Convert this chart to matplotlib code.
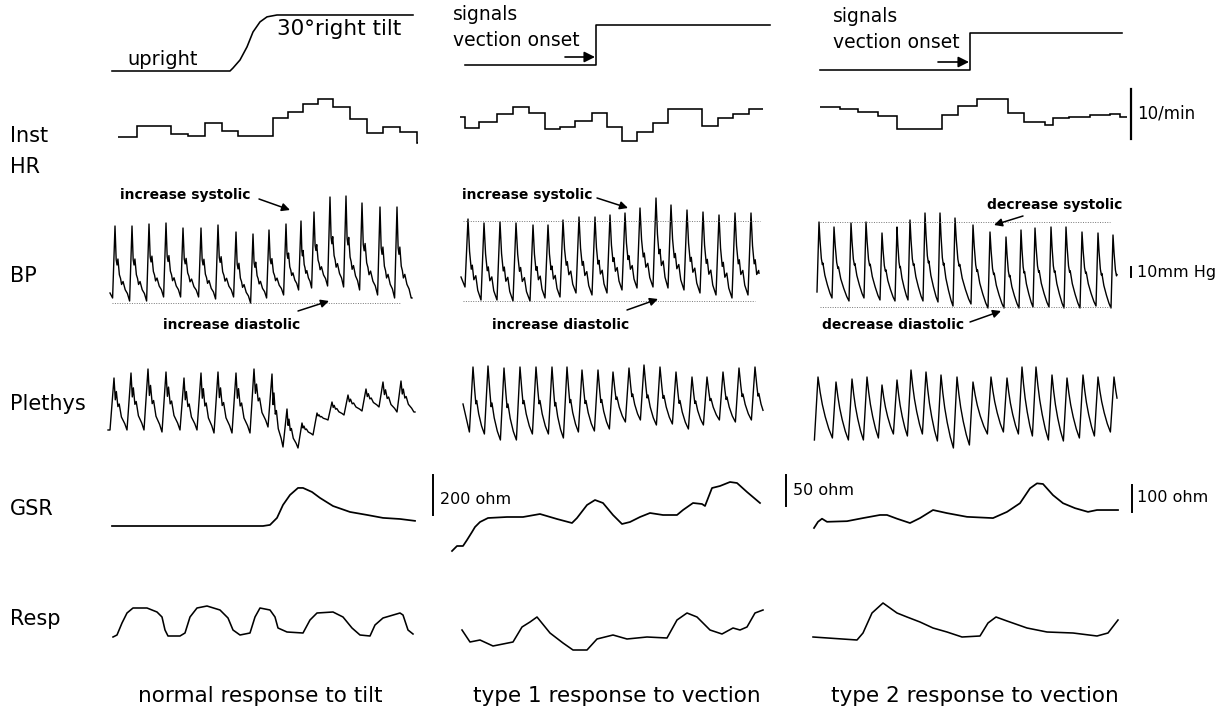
import numpy as np
import matplotlib.pyplot as plt

plt.rcParams['font.family'] = ['DejaVu Sans']

W, H = 1226, 711
PX_PER_S = 20                  # horizontal chart speed
COL_X0 = [108, 452, 812]       # pixel where t = 0 sits in each column
T_SPAN = 16

# ---------------- data (time in s) ----------------
# row 1: tilt angle (deg) and vection signal (0 / 1)
tilt_t = [0.2, 6.1, 6.25, 6.6, 6.95, 7.25, 7.6, 7.95, 8.45, 15.25]
tilt_deg = [0, 0, 1.6, 5.9, 12.9, 20.9, 26.3, 29, 30, 30]
vect1_t = [0.65, 7.2, 7.2, 15.9]
vect2_t = [0.4, 7.9, 7.9, 15.5]
vect_sig = [0, 0, 1, 1]

# row 2: instantaneous heart rate, one level per beat (beats/min)
hr_edges = [
    [0.5, 1.45, 3.15, 4.0, 4.85, 5.7, 6.5, 8.25, 9.0, 9.75, 10.5, 11.25, 12.1,
     12.95, 13.75, 14.6, 15.45, 15.5],
    [0.4, 0.65, 1.35, 2.25, 3.05, 3.85, 4.65, 5.4, 6.15, 7.0, 7.75, 8.5, 9.25,
     10.05, 10.8, 12.5, 13.3, 14.05, 14.85, 15.55],
    [0.4, 1.4, 2.3, 3.3, 4.25, 6.5, 7.3, 8.25, 9.8, 10.6, 11.65, 12.05, 12.85,
     13.9, 14.9, 15.4, 15.75],
]
hr_levels = [
    [70, 72.2, 70.6, 70.2, 72.8, 71.2, 70.2, 73.8, 75, 76.6, 77.6, 76, 73.6,
     70.8, 72, 71, 68.8],
    [74, 71.8, 73, 74.6, 76, 74.8, 71.6, 72, 73.2, 74.8, 72, 69.2, 71, 72.8,
     75.6, 72.2, 73.8, 74.6, 75.6],
    [76, 75.6, 75, 74.2, 71.6, 74.4, 76.2, 77.6, 74.8, 73, 72.4, 73.8, 74,
     74.4, 74.6, 74],
]

# row 3: blood pressure, per beat (mmHg)
bp_peak_t = [
    [0.35, 1.2, 2.05, 2.9, 3.75, 4.65, 5.5, 6.4, 7.25, 8.05, 8.9, 9.65, 10.3,
     11.1, 11.9, 12.7, 13.6, 14.45],
    [0.8, 1.6, 2.4, 3.2, 4.05, 4.8, 5.55, 6.35, 7.15, 7.9, 8.65, 9.4, 10.2,
     10.95, 11.75, 12.55, 13.35, 14.15, 14.95],
    [0.35, 1.1, 1.95, 2.7, 3.5, 4.25, 4.9, 5.65, 6.4, 7.15, 8.05, 8.9, 9.7,
     10.45, 11.15, 11.95, 12.7, 13.5, 14.3, 15.05],
]
bp_systolic = [
    [137, 137, 139, 140, 135, 135, 138, 131, 129, 133, 139, 142, 151, 166, 167,
     160, 156, 156],
    [144, 140, 141, 140, 138, 138, 143, 146, 146, 148, 150, 155, 165, 158, 153,
     151, 148, 150, 150],
    [141, 136, 140, 141, 130, 136, 143, 150, 150, 145, 138, 131, 126, 133, 135,
     136, 136, 131, 130, 128],
]
bp_diastolic = [
    [65, 62, 62, 66, 66, 66, 64, 66, 60, 65, 68, 73, 75, 77, 76, 73, 68, 65],
    [76, 63, 63, 62, 62, 65, 66, 70, 68, 70, 73, 75, 76, 75, 73, 70, 68, 65, 68],
    [71, 65, 62, 65, 63, 62, 63, 62, 61, 57, 59, 55, 55, 55, 56, 56, 55, 55, 57,
     55],
]
bp_start = [(0.1, 70), (0.45, 86), None]
bp_end_t = [15.2, 15.35, 15.25]
bp_rise = [0.12, 0.15, 0.1]
# beat contour after the peak: (fraction of decay, fraction of pulse height)
bp_shape = [
    [(0, 1), (0.08, 0.55), (0.14, 0.48), (0.2, 0.56), (0.3, 0.35), (0.38, 0.3),
     (0.45, 0.22), (0.55, 0.26), (0.7, 0.15), (0.85, 0.1), (1, 0)],
    [(0, 1), (0.12, 0.6), (0.25, 0.38), (0.33, 0.43), (0.45, 0.25), (0.6, 0.3),
     (0.75, 0.12), (0.9, 0.05), (1, 0)],
    [(0, 1), (0.08, 0.75), (0.18, 0.52), (0.26, 0.44), (0.3, 0.46), (0.45, 0.3),
     (0.65, 0.17), (0.85, 0.06), (1, 0)],
]
# dotted reference levels (mmHg) and their time extent
bp_ref = [
    [(60, 0.2, 14.6)],
    [(142, 0.55, 15.4), (62, 0.55, 15.15)],
    [(141, 0.4, 14.9), (56, 0.4, 14.9)],
]

# row 4: plethysmograph (a.u.)
pl_peak_t = [
    [0.3, 1.15, 2.0, 2.9, 3.8, 4.65, 5.5, 6.4, 7.3, 8.2, 8.95, 9.7, 10.45, 11.2,
     12.0, 12.9, 13.75, 14.65],
    [1.05, 1.8, 2.6, 3.4, 4.2, 5.0, 5.75, 6.5, 7.3, 8.05, 8.85, 9.6, 10.4, 11.2,
     12.0, 12.75, 13.55, 14.35, 15.15],
    [0.3, 1.2, 2.0, 2.75, 3.5, 4.25, 4.95, 5.7, 6.45, 7.25, 8.05, 8.95, 9.75,
     10.5, 11.2, 12.0, 12.75, 13.55, 14.3, 15.1],
]
pl_peak = [
    [62, 67, 71, 68, 62, 67, 68, 67, 71, 66, 31, 17, 27, 38, 45, 51, 58, 59],
    [73, 74, 72, 73, 73, 73, 73, 70, 70, 68, 72, 75, 73, 68, 63, 63, 68, 72, 73],
    [63, 58, 61, 63, 55, 60, 70, 68, 65, 63, 58, 63, 62, 73, 73, 65, 62, 65, 63,
     63],
]
pl_trough = [
    [10, 10, 10, 8, 10, 10, 7, 7, 7, 13, -7, -8, 5, 20, 25, 29, 33, 28],
    [8, 6, 0, 0, 6, 6, 2, 8, 9, 11, 18, 20, 15, 16, 11, 15, 20, 18, 20],
    [0, 2, 0, 0, 2, 6, 4, 6, -1, -8, -5, 6, 8, 6, 4, 0, -1, 2, 4, 8],
]
pl_start = [(0.0, 10), (0.55, 36), None]
pl_end_t = [15.35, 15.55, 15.25]
pl_rise = [0.2, 0.18, 0.18]
pl_shape = [
    [(0, 1), (0.1, 0.58), (0.18, 0.74), (0.3, 0.45), (0.4, 0.5), (0.57, 0.25),
     (0.83, 0.12), (1, 0)],
    [(0, 1), (0.15, 0.65), (0.25, 0.45), (0.32, 0.5), (0.5, 0.3), (0.75, 0.12),
     (1, 0)],
    [(0, 1), (0.15, 0.75), (0.3, 0.55), (0.5, 0.35), (0.75, 0.15), (1, 0)],
]

# row 5: galvanic skin response (ohm, change from start)
gsr_t = [
    [0.2, 7.75, 8.1, 8.45, 8.75, 9.1, 9.5, 9.75, 10.2, 10.6, 11.25, 12.1, 12.95,
     13.75, 14.6, 15.35],
    [0, 0.15, 0.25, 0.55, 0.75, 1.0, 1.15, 1.4, 1.8, 2.75, 3.55, 4.4, 5.25, 6.0,
     6.25, 6.75, 7.15, 7.55, 8.05, 8.5, 8.9, 9.4, 9.9, 10.55, 11.25, 11.55,
     12.05, 12.5, 12.65, 13.0, 13.4, 13.9, 14.25, 14.75, 15.4],
    [0.1, 0.3, 0.5, 0.75, 1.75, 2.55, 3.4, 3.75, 4.25, 4.9, 5.4, 6.05, 6.75,
     7.75, 9.05, 9.75, 10.4, 10.9, 11.25, 11.55, 12.05, 12.55, 13.15, 13.8,
     14.25, 15.3],
]
gsr_ohm = [
    [0, 0, 4, 30, 78, 115, 141, 141, 126, 104, 74, 52, 41, 30, 26, 19],
    [0, 15, 25, 25, 55, 95, 120, 145, 165, 170, 170, 185, 160, 140, 165, 230,
     255, 240, 180, 135, 145, 170, 190, 180, 180, 205, 240, 235, 225, 315, 325,
     345, 340, 295, 240],
    [0, 10, 15, 10, 11, 16, 21, 21, 15, 8, 16, 29, 24, 18, 16, 26, 40, 64, 72,
     71, 53, 40, 32, 26, 29, 29],
]
gsr_bar = [(100, 51.2, 52), (200, -0.95, 180), (50, -1.3, 35.5)]  # ohm, t, from

# row 6: respiration (a.u.)
resp_t = [
    [0.25, 0.45, 0.7, 0.95, 1.25, 1.95, 2.45, 2.7, 2.85, 3.0, 3.6, 3.85, 4.1,
     4.45, 4.95, 5.6, 6.0, 6.25, 6.6, 7.1, 7.35, 7.6, 8.1, 8.35, 8.5, 8.95,
     9.75, 10.1, 10.45, 11.25, 11.75, 12.2, 12.6, 13.1, 13.35, 13.75, 14.6,
     14.75, 15.0, 15.25],
    [0.5, 0.9, 1.4, 2.05, 3.05, 3.5, 3.9, 4.25, 4.9, 5.55, 6.05, 6.75, 7.25,
     8.05, 8.75, 9.75, 10.75, 11.25, 11.75, 12.25, 12.9, 13.5, 14.05, 14.4,
     14.75, 15.15, 15.55],
    [0.05, 2.25, 2.55, 3.0, 3.55, 4.25, 4.75, 5.4, 6.05, 6.75, 7.5, 8.4, 8.8,
     9.2, 9.75, 10.75, 11.75, 13.05, 14.25, 14.8, 15.3],
]
resp_v = [
    [3, 5, 17, 27, 32, 32, 28, 23, 10, 4, 4, 7, 23, 32, 34, 30, 22, 10, 5, 7, 23,
     32, 30, 23, 12, 8, 7, 20, 27, 28, 23, 12, 5, 4, 15, 22, 27, 25, 10, 6],
    [10, -2, 0, -6, -2, 13, 18, 23, 7, -3, -10, -10, 1, 5, 1, 3, 2, 20, 27, 23,
     10, 6, 12, 10, 13, 27, 30],
    [3, 0, 7, 27, 37, 27, 23, 18, 12, 8, 3, 4, 17, 23, 19, 12, 8, 7, 4, 7, 20],
]

# ---------------- layout: (pixel y of reference value, reference value, px per unit)
ROW_MAP = {
    'tilt': [(71, 0, 1.867), (65, 0, 40), (70, 0, 37)],
    'hr':   [(137, 70, 5)] * 3,
    'bp':   [(303, 60, 1)] * 3,
    'pl':   [(440, 0, 1)] * 3,
    'gsr':  [(526, 0, 0.27), (551, 0, 0.2), (528, 0, 0.62)],
    'resp': [(640, 0, 1)] * 3,
}
HALF = 70

fig = plt.figure(figsize=(W / 100, H / 100), dpi=100)
fig.patch.set_facecolor('white')


def strip(row, col):
    y_px, v_ref, ppu = ROW_MAP[row][col]
    left = COL_X0[col]
    ax = fig.add_axes([left / W, 1 - (y_px + HALF) / H,
                       T_SPAN * PX_PER_S / W, 2 * HALF / H])
    ax.set_xlim(0, T_SPAN)
    ax.set_ylim(v_ref - HALF / ppu, v_ref + HALF / ppu)
    ax.axis('off')
    ax.patch.set_alpha(0)
    return ax


def pulse_wave(tp, peaks, troughs, shape, rise, t_end, start=None):
    tp = np.asarray(tp, float)
    period = np.mean(np.diff(tp))
    nxt_t = list(tp[1:] - rise) + [tp[-1] + period - rise]
    nxt_v = list(troughs[1:]) + [troughs[-1]]
    ts, vs = [], []
    if start is not None:
        ts.append(start[0])
        vs.append(start[1])
    for i in range(len(tp)):
        ts.append(tp[i] - rise)
        vs.append(troughs[i])
        for phi, h in shape:
            ts.append(tp[i] + phi * (nxt_t[i] - tp[i]))
            vs.append(nxt_v[i] + h * (peaks[i] - nxt_v[i]))
    ts, vs = np.array(ts), np.array(vs)
    keep = ts < t_end
    return np.r_[ts[keep], t_end], np.r_[vs[keep], np.interp(t_end, ts, vs)]


LW = 1.15
K = 'black'

# row 1
ax = strip('tilt', 0)
ax.plot(tilt_t, tilt_deg, color=K, lw=LW, clip_on=False)
for col, tt in ((1, vect1_t), (2, vect2_t)):
    ax = strip('tilt', col)
    ax.plot(tt, vect_sig, color=K, lw=LW, clip_on=False)

# row 2
for col in range(3):
    ax = strip('hr', col)
    ax.stairs(hr_levels[col], hr_edges[col], baseline=None, color=K, lw=LW,
              clip_on=False)
    if col == 2:
        ax.plot([15.95, 15.95], [69.6, 79.6], color=K, lw=1.6, clip_on=False)

# row 3
for col in range(3):
    ax = strip('bp', col)
    t, v = pulse_wave(bp_peak_t[col], bp_systolic[col], bp_diastolic[col],
                      bp_shape[col], bp_rise[col], bp_end_t[col], bp_start[col])
    ax.plot(t, v, color=K, lw=1.0, clip_on=False)
    for level, t0, t1 in bp_ref[col]:
        ax.plot([t0, t1], [level, level], color='#777777', lw=0.7,
                ls=(0, (1, 1.5)), clip_on=False)
    if col == 2:
        ax.plot([15.95, 15.95], [86, 96], color=K, lw=1.4, clip_on=False)

# row 4
for col in range(3):
    ax = strip('pl', col)
    t, v = pulse_wave(pl_peak_t[col], pl_peak[col], pl_trough[col],
                      pl_shape[col], pl_rise[col], pl_end_t[col], pl_start[col])
    ax.plot(t, v, color=K, lw=1.0, clip_on=False)

# row 5
for col in range(3):
    ax = strip('gsr', col)
    ax.plot(gsr_t[col], gsr_ohm[col], color=K, lw=1.25, clip_on=False)
    size, tb, v0 = gsr_bar[col]
    ax.plot([tb, tb], [v0, v0 + size], color=K, lw=1.4, clip_on=False)

# row 6
for col in range(3):
    ax = strip('resp', col)
    ax.plot(resp_t[col], resp_v[col], color=K, lw=LW, clip_on=False)

# ---------------- text overlay in pixel coordinates
ov = fig.add_axes([0, 0, 1, 1])
ov.set_xlim(0, W)
ov.set_ylim(H, 0)
ov.axis('off')
ov.patch.set_alpha(0)

for label, y in (('Inst', 142), ('HR', 173), ('BP', 282), ('Plethys', 410),
                 ('GSR', 515), ('Resp', 625)):
    ov.text(10, y, label, fontsize=15, va='baseline', ha='left')

ov.text(127, 65, 'upright', fontsize=14, va='baseline')
ov.text(277, 35, '30°right tilt', fontsize=15.5, va='baseline')
for x, y in ((453, 20), (833, 22)):
    ov.text(x, y, 'signals', fontsize=13.5, va='baseline')
    ov.text(x, y + 26, 'vection onset', fontsize=13.5, va='baseline')

arrow = dict(arrowstyle='-|>', color=K, lw=1.2, mutation_scale=16,
             shrinkA=0, shrinkB=0)
for (x0, y0), (x1, y1) in (((565, 57), (595, 57)), ((938, 62), (969, 62))):
    ov.annotate('', xy=(x1, y1), xytext=(x0, y0), arrowprops=arrow)

ov.text(1137, 119, '10/min', fontsize=12, va='baseline')
ov.text(1137, 277, '10mm Hg', fontsize=11.5, va='baseline')

bp_notes = [
    ('increase systolic', (120, 199), (259, 199), (290, 210)),
    ('increase diastolic', (163, 329), (298, 311), (329, 301)),
    ('increase systolic', (462, 199), (597, 198), (628, 208)),
    ('increase diastolic', (492, 329), (627, 310), (658, 299)),
    ('decrease systolic', (987, 209), (1023, 216), (994, 225)),
    ('decrease diastolic', (822, 329), (970, 322), (1001, 311)),
]
small_arrow = dict(arrowstyle='-|>', color=K, lw=1.1, mutation_scale=12,
                   shrinkA=0, shrinkB=0)
for txt, (tx, ty), p0, p1 in bp_notes:
    ov.text(tx, ty, txt, fontsize=10, fontweight='bold', va='baseline')
    ov.annotate('', xy=p1, xytext=p0, arrowprops=small_arrow)

ov.text(440, 504, '200 ohm', fontsize=11.5, va='baseline')
ov.text(793, 495, '50 ohm', fontsize=11.5, va='baseline')
ov.text(1137, 502, '100 ohm', fontsize=11.5, va='baseline')

for x, txt in ((260, 'normal response to tilt'),
               (617, 'type 1 response to vection'),
               (975, 'type 2 response to vection')):
    ov.text(x, 702, txt, fontsize=15.5, ha='center', va='baseline')

fig.savefig('out.png', dpi=100, facecolor='white')
